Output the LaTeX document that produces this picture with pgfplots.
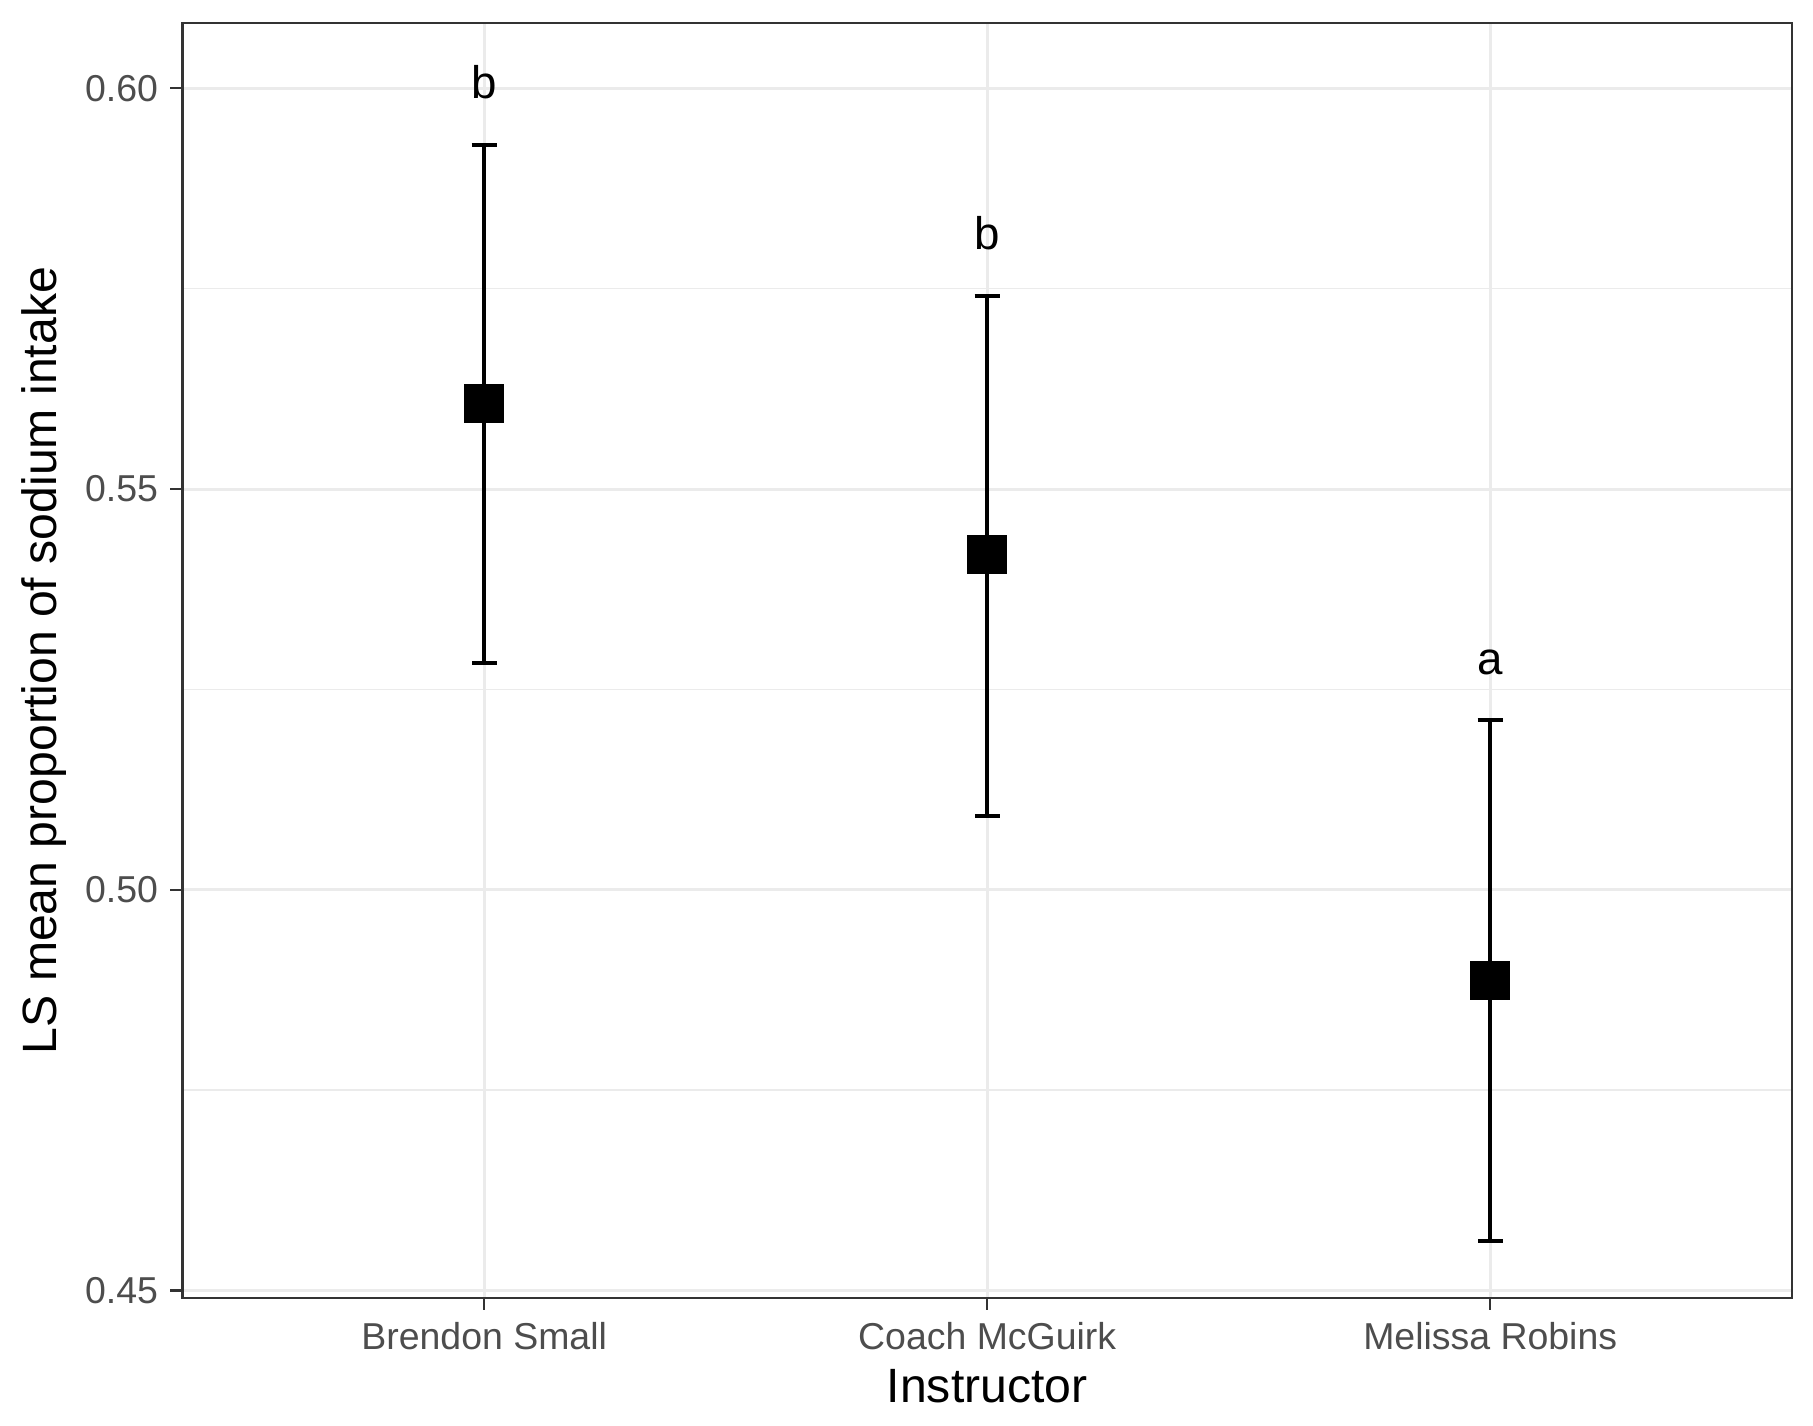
\documentclass[border=0pt]{standalone}
\usepackage{pgfplots}
\pgfplotsset{compat=1.18}
\usepackage{fontspec}
\setmainfont{Liberation Sans}
\definecolor{gridgray}{HTML}{EBEBEB}
\definecolor{bordergray}{HTML}{333333}
\definecolor{tickgray}{HTML}{4D4D4D}

\begin{document}
\begin{tikzpicture}
\begin{axis}[
    scale only axis,
    width=16.09cm,
    height=12.74cm,
    xmin=0.4, xmax=3.6,
    ymin=0.4491, ymax=0.6081,
    xtick={1,2,3},
    xticklabels={Brendon Small, Coach McGuirk, Melissa Robins},
    ytick={0.45,0.50,0.55,0.60},
    yticklabels={0.45,0.50,0.55,0.60},
    minor ytick={0.475,0.525,0.575},
    grid=both,
    major grid style={gridgray, line width=0.85pt},
    minor grid style={gridgray, line width=0.45pt},
    axis line style={bordergray, line width=0.65pt},
    tick align=outside,
    tick pos=left,
    major tick length=0.119cm,
    minor tick length=0pt,
    tick style={bordergray, line width=0.65pt},
    ticklabel style={font=\fontsize{10.65}{12}\selectfont, text=tickgray},
    xlabel={Instructor},
    ylabel={LS mean proportion of sodium intake},
    label style={font=\fontsize{13.7}{16}\selectfont},
    x label style={at={(axis description cs:0.5,-0.069)}, anchor=center},
    y label style={at={(axis description cs:-0.086,0.5)}, anchor=center},
]
\addplot[only marks, mark=square*, mark size=0.19cm, black,
    error bars/.cd, y dir=both, y explicit,
    error bar style={line width=1.2pt, black},
    error mark options={rotate=90, mark size=0.125cm, line width=1.2pt, black}]
coordinates {
    (1,0.5607) += (0,0.0322) -= (0,0.0324)
    (2,0.5418) += (0,0.0323) -= (0,0.0326)
    (3,0.4887) += (0,0.0325) -= (0,0.0325)
};
\node[font=\fontsize{13}{15}\selectfont, anchor=base] at (axis cs:1,0.5987) {b};
\node[font=\fontsize{13}{15}\selectfont, anchor=base] at (axis cs:2,0.5799) {b};
\node[font=\fontsize{13}{15}\selectfont, anchor=base] at (axis cs:3,0.5269) {a};
\end{axis}
\pgfresetboundingbox
\useasboundingbox (-1.823cm,-1.277cm) rectangle (16.30cm,12.973cm);
\end{tikzpicture}
\end{document}
